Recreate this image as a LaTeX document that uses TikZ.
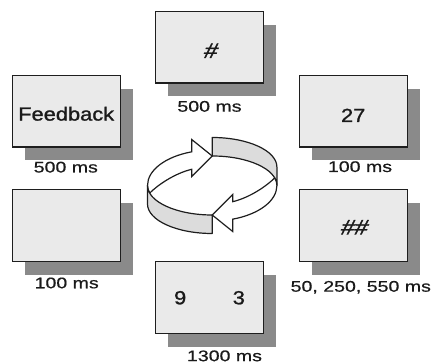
\documentclass[tikz,border=0pt]{standalone}
\usepackage{fontspec}
\usetikzlibrary{shadows}
\newfontfamily\lblfont[FakeStretch=1.27,FakeBold=0.6]{Liberation Sans}
\newfontfamily\boxfont[FakeStretch=1.15,FakeBold=1.2]{Liberation Sans}
\newfontfamily\hashfont[FakeStretch=1.15,FakeSlant=0.25,FakeBold=1.8]{Liberation Sans}
\definecolor{boxfill}{HTML}{EAEAEA}
\definecolor{shadowc}{HTML}{8A8A8A}
\definecolor{bandc}{HTML}{DCDCDC}
\definecolor{linec}{HTML}{1E1E1E}
\definecolor{textc}{HTML}{1A1A1A}
\begin{document}
\begin{tikzpicture}[x=1pt,y=1pt,
  screen/.style={draw=linec, line width=1.3pt, fill=boxfill,
    minimum width=108pt, minimum height=71.7pt, inner sep=0pt,
    text depth=0pt, text=textc,
    font=\boxfont\fontsize{19pt}{22pt}\selectfont,
    drop shadow={shadow xshift=12.7pt, shadow yshift=-13.3pt, opacity=1, fill=shadowc, draw=none}},
  hashtext/.style={font=\hashfont\fontsize{21pt}{24pt}\selectfont},
  timing/.style={anchor=base, inner sep=0pt, text=textc,
    font=\lblfont\fontsize{15.4pt}{18pt}\selectfont},
  band/.style={draw=linec, line width=1.2pt, fill=bandc, line join=round},
  flatarrow/.style={draw=linec, line width=1.2pt, fill=white, line join=miter}]
\useasboundingbox (0,0) rectangle (436,363);

% screens
\node[screen, hashtext, text height=21.6pt] (hash)  at (209.5,315.8) {\#};
\node[screen, text height=18.8pt] (fb)    at (66.2,251.8)  {Feedback};
\node[screen, text height=21.6pt] (num)   at (353.2,251.8) {27};
\node[screen, text height=13.6pt] (blank) at (66.2,137.3)  {};
\node[screen, hashtext, text height=17.6pt] (hash2) at (353.2,137.3) {\#\#};
\node[screen, text height=13.6pt] (pair)  at (209.5,65.5)  {9\hspace{46.5pt}3};

% timings
\node[timing] (t1) at (209.5,251.3) {500 ms};
\node[timing] (t2) at (65.8,190.5)  {500 ms};
\node[timing] (t3) at (360,191)     {100 ms};
\node[timing] (t4) at (66.7,74.7)   {100 ms};
\node[timing] (t5) at (360.8,71.3)  {50, 250, 550 ms};
\node[timing] (t6) at (224.5,1.8)   {1300 ms};

% cycle symbol
\begin{scope}[shift={(212.2,177.5)}]
  \foreach \r in {0,180} {
    \begin{scope}[rotate=\r]
      \path[band] (0,48) arc[start angle=90, end angle=0, x radius=64.7pt, y radius=29.5pt]
        -- (64.7,0) arc[start angle=0, end angle=90, x radius=64.7pt, y radius=29.5pt] -- cycle;
      \path[flatarrow] (-64.7,0) arc[start angle=180, end angle=108.5, x radius=64.7pt, y radius=35.5pt]
        -- (-20.5,46) -- (0,29.5) -- (-20.5,9) -- (-20.5,16.2)
        .. controls (-38,12) and (-55,0) .. (-62.5,-7.6)
        arc[start angle=195, end angle=180, x radius=64.7pt, y radius=29.5pt] -- cycle;
    \end{scope}
  }
\end{scope}
\end{tikzpicture}
\end{document}
